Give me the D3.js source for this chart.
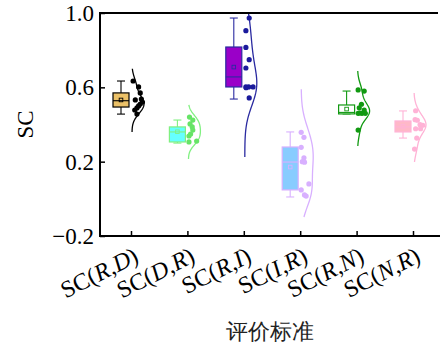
<!DOCTYPE html>
<html>
<head>
<meta charset="utf-8">
<script src="https://cdn.jsdelivr.net/npm/d3@7"></script>
<style>
  body { margin: 0; background: #fff; }
  text { font-family: "Liberation Serif", "DejaVu Serif", serif; }
</style>
</head>
<body>
<svg id="chart" width="440" height="345"></svg>
<script>
// categories SC(a,b)
const firstArg = ["R", "D", "R", "I", "R", "N"];
const secondArg = ["D", "R", "I", "R", "N", "R"];
const categories = firstArg.map((a, i) => "SC(" + a + "," + secondArg[i] + ")");

const boxFill = ["#ebc168", "#66ffff", "#9a00c8", "#88ccff", "#ffffff", "#ffb8c8"];
const lineColor = ["#000000", "#80f080", "#2a2aa0", "#d8b0ff", "#119911", "#ffb3d6"];
const dotColor = ["#000000", "#66e466", "#1a1a9c", "#d8b0ff", "#119911", "#ffb3d6"];

// box statistics
const whiskerLow = [0.456, 0.300, 0.537, 0.010, 0.457, 0.327];
const q1 = [0.494, 0.306, 0.602, 0.048, 0.457, 0.360];
const median = [0.528, 0.360, 0.656, 0.198, 0.465, 0.387];
const q3 = [0.570, 0.387, 0.817, 0.279, 0.505, 0.419];
const whiskerHigh = [0.634, 0.424, 0.973, 0.360, 0.580, 0.473];
const means = [0.532, 0.361, 0.709, 0.171, 0.483, 0.390];

// raw points (and their spread inside the half violin, 0..1)
const points = [
  [0.634, 0.602, 0.570, 0.537, 0.532, 0.521, 0.510, 0.500, 0.489, 0.478, 0.456],
  [0.440, 0.424, 0.403, 0.387, 0.370, 0.349, 0.338, 0.311, 0.306],
  [0.973, 0.905, 0.815, 0.749, 0.704, 0.602, 0.602, 0.602, 0.598, 0.543],
  [0.358, 0.331, 0.277, 0.221, 0.200, 0.197, 0.080, 0.048, 0.021, 0.015],
  [0.586, 0.580, 0.509, 0.490, 0.478, 0.460, 0.460, 0.460, 0.462, 0.370],
  [0.474, 0.426, 0.423, 0.399, 0.396, 0.377, 0.377, 0.327, 0.268]
];
const spread = [
  [0.1, 0.6, 0.75, 0.85, 0.3, 0.95, 0.75, 0.6, 0.45, 0.25, 0.45],
  [0.1, 0.4, 0.15, 0.35, 0.4, 0.2, 0.05, 0.75, 0.05],
  [0.4, 0.1, 0.1, 0.4, 0.1, 0.1, 0.35, 0.75, 0.12, 0.4],
  [0.0, 0.25, 0.0, 0.25, 0.1, 0.3, 0.7, 0.0, 0.3, 0.45],
  [0.05, 0.6, 0.35, 0.15, 0.6, 0.05, 0.4, 0.7, 0.2, 0.05],
  [0.15, 0.1, 0.3, 0.55, 0.8, 0.15, 0.6, 0.25, 0.05]
];
// vertical extent of each half violin
const violinLo = [0.36, 0.214, 0.225, -0.098, 0.284, 0.198];
const violinHi = [0.70, 0.505, 1.0, 0.59, 0.688, 0.57];

const yTicks = [-0.2, 0.2, 0.6, 1.0];

const svg = d3.select("#chart");
const plotLeft = 100, plotRight = 438, plotTop = 13, plotBottom = 236;

const y = d3.scaleLinear().domain([-0.2, 1.0]).range([plotBottom, plotTop]);
const x = d3.scalePoint().domain(categories).range([131, 413]);

const boxW = 16, boxShift = 10, capW = 8, violinW = 12;

// gaussian kde, silverman bandwidth
function kde(vals, lo, hi) {
  const n = vals.length;
  const sd = d3.deviation(vals);
  const bw = 1.06 * sd * Math.pow(n, -0.2);
  const grid = d3.range(0, 101).map(k => lo + (hi - lo) * k / 100);
  return grid.map(g => [g, d3.sum(vals, v => Math.exp(-0.5 * ((g - v) / bw) ** 2))]);
}

categories.forEach((c, i) => {
  const cx = x(c);
  const bx = cx - boxShift;
  const g = svg.append("g");
  const col = lineColor[i];

  // half violin
  const dens = kde(points[i], violinLo[i], violinHi[i]);
  const dmax = d3.max(dens, d => d[1]);
  const w = d3.scaleLinear().domain([0, dmax]).range([0, violinW]);
  g.append("path")
    .datum(dens)
    .attr("fill", "none")
    .attr("stroke", col)
    .attr("stroke-width", 1.3)
    .attr("d", d3.line().x(d => cx + 1 + w(d[1])).y(d => y(d[0])));

  // whiskers
  g.append("line").attr("x1", bx).attr("x2", bx)
    .attr("y1", y(whiskerHigh[i])).attr("y2", y(q3[i]))
    .attr("stroke", col).attr("stroke-width", 1.1);
  g.append("line").attr("x1", bx).attr("x2", bx)
    .attr("y1", y(q1[i])).attr("y2", y(whiskerLow[i]))
    .attr("stroke", col).attr("stroke-width", 1.1);
  [whiskerHigh[i], whiskerLow[i]].forEach(v => {
    g.append("line").attr("x1", bx - capW / 2).attr("x2", bx + capW / 2)
      .attr("y1", y(v)).attr("y2", y(v))
      .attr("stroke", col).attr("stroke-width", 1.1);
  });

  // box
  g.append("rect")
    .attr("x", bx - boxW / 2).attr("width", boxW)
    .attr("y", y(q3[i])).attr("height", y(q1[i]) - y(q3[i]))
    .attr("fill", boxFill[i])
    .attr("stroke", col).attr("stroke-width", 1.2);
  g.append("line").attr("x1", bx - boxW / 2).attr("x2", bx + boxW / 2)
    .attr("y1", y(median[i])).attr("y2", y(median[i]))
    .attr("stroke", col).attr("stroke-width", 1.1);
  // mean
  g.append("rect")
    .attr("x", bx - 1.8).attr("y", y(means[i]) - 1.8)
    .attr("width", 3.6).attr("height", 3.6)
    .attr("fill", "none").attr("stroke", col).attr("stroke-width", 0.9);

  // points
  g.selectAll("circle")
    .data(points[i])
    .join("circle")
    .attr("cx", (d, k) => cx + 1 + spread[i][k] * (violinW - 1))
    .attr("cy", d => y(d))
    .attr("r", 2.6)
    .attr("fill", dotColor[i]);
});

// axes
const yAxis = svg.append("g")
  .attr("transform", `translate(${plotLeft},0)`)
  .call(d3.axisLeft(y).tickValues(yTicks).tickSize(-5).tickPadding(6).tickFormat(d3.format(".1f")));
yAxis.select(".domain").remove();
yAxis.selectAll(".tick line").attr("stroke-width", 1.5);
yAxis.selectAll(".tick text")
  .attr("font-size", 23)
  .attr("font-family", "Liberation Serif")
  .attr("fill", "#000")
  .attr("dy", "0.33em");

const xAxis = svg.append("g")
  .attr("transform", `translate(0,${plotBottom})`)
  .call(d3.axisBottom(x).tickSize(-5).tickFormat(""));
xAxis.select(".domain").remove();
xAxis.selectAll(".tick line").attr("stroke-width", 1.5);

// frame
svg.append("line").attr("x1", plotLeft).attr("x2", plotLeft).attr("y1", plotTop - 1).attr("y2", plotBottom + 1)
  .attr("stroke", "#000").attr("stroke-width", 2);
svg.append("line").attr("x1", plotLeft - 1).attr("x2", 440).attr("y1", plotBottom).attr("y2", plotBottom)
  .attr("stroke", "#000").attr("stroke-width", 2);
svg.append("line").attr("x1", plotLeft - 1).attr("x2", plotRight).attr("y1", plotTop).attr("y2", plotTop)
  .attr("stroke", "#000").attr("stroke-width", 2);

// x tick labels
const labels = svg.append("g").selectAll("text")
  .data(categories)
  .join("text")
  .attr("transform", d => `translate(${x(d) + 9},261) rotate(-27)`)
  .attr("text-anchor", "end")
  .attr("font-size", 24)
  .attr("fill", "#000");
labels.each(function (d, i) {
  const t = d3.select(this);
  t.append("tspan").text("SC(");
  t.append("tspan").attr("font-style", "italic").text(firstArg[i]);
  t.append("tspan").text(",");
  t.append("tspan").attr("font-style", "italic").text(secondArg[i]);
  t.append("tspan").text(")");
});

// axis titles
svg.append("text")
  .attr("transform", `translate(33,${(plotTop + plotBottom) / 2}) rotate(-90)`)
  .attr("text-anchor", "middle")
  .attr("font-size", 23)
  .attr("fill", "#000")
  .text("SC");

svg.append("text")
  .attr("x", 270).attr("y", 339)
  .attr("text-anchor", "middle")
  .attr("font-size", 22)
  .attr("font-family", "Noto Sans CJK SC")
  .attr("fill", "#222")
  .text("评价标准");
</script>
</body>
</html>
